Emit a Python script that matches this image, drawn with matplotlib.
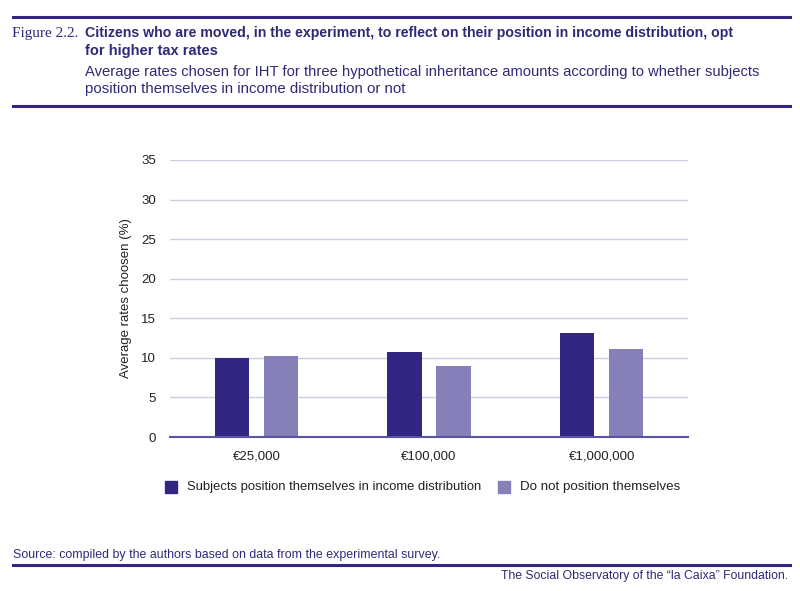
import matplotlib
matplotlib.use("Agg")
import matplotlib.pyplot as plt
from matplotlib.lines import Line2D
from matplotlib.patches import Rectangle
import numpy as np

categories = ["€25,000", "€100,000", "€1,000,000"]
positioned = [10.0, 10.7, 13.2]
not_positioned = [10.25, 9.0, 11.1]
series_names = ["Subjects position themselves in income distribution",
                "Do not position themselves"]
y_ticks = [0, 5, 10, 15, 20, 25, 30, 35]

DARK = "#312783"
LIGHT = "#8680b8"
TEXT = "#2e2a77"
GRID = "#cfcce3"
SANS = ["Liberation Sans", "DejaVu Sans"]

W, H = 800, 591
fig = plt.figure(figsize=(W / 100, H / 100), dpi=100)
renderer = fig.canvas.get_renderer()


def fy(py):
    return 1 - py / H


# place text at pixel coords and shrink the font so it spans width_px
def fit_text(px, py, s, width_px, size, ha="left", **kw):
    t = fig.text(px / W, fy(py), s, fontsize=size, ha=ha, va="center", **kw)
    w = t.get_window_extent(renderer).width
    t.set_fontsize(size * width_px / w)
    return t


# header / footer rules
for py in [17, 106, 565]:
    fig.add_artist(Line2D([13 / W, 790 / W], [fy(py), fy(py)], color=DARK, lw=2.2,
                          transform=fig.transFigure))

fit_text(12, 33, "Figure 2.2.", 66, 11, family="Liberation Serif", color=TEXT)
fit_text(85, 33,
         "Citizens who are moved, in the experiment, to reflect on their position in income distribution, opt",
         648, 12, family=SANS, weight="bold", color=TEXT)
fit_text(85, 51, "for higher tax rates", 132, 12, family=SANS, weight="bold", color=TEXT)
fit_text(85, 72,
         "Average rates chosen for IHT for three hypothetical inheritance amounts according to whether subjects",
         672, 11.5, family=SANS, color=TEXT)
fit_text(85, 89, "position themselves in income distribution or not", 322, 11.5,
         family=SANS, color=TEXT)

fit_text(13, 555,
         "Source: compiled by the authors based on data from the experimental survey.",
         424, 9.5, family=SANS, color=TEXT)
fit_text(788, 576, "The Social Observatory of the \u201cla Caixa\u201d Foundation.",
         286, 9.5, ha="right", family=SANS, color=TEXT)

ax = fig.add_axes([170 / W, fy(437), 518 / W, 277 / H])
x = np.arange(len(categories))
w = 0.2
off = 0.142
ax.bar(x - off, positioned, width=w, color=DARK, zorder=3)
ax.bar(x + off, not_positioned, width=w, color=LIGHT, zorder=3)

ax.set_xlim(-0.5, len(categories) - 0.5)
ax.set_ylim(0, 35)
ax.set_yticks(y_ticks)
ax.set_xticks(x)
ax.set_xticklabels(categories, family=SANS, fontsize=9.5, color="#222222")
ax.tick_params(axis="y", labelsize=9.5, labelcolor="#222222", length=0, pad=10)
ax.tick_params(axis="x", length=0, pad=10)
for t in ax.get_yticklabels():
    t.set_family(SANS)
ax.yaxis.grid(True, color=GRID, lw=1, zorder=0)
for s in ["top", "right", "left"]:
    ax.spines[s].set_visible(False)
ax.spines["bottom"].set_color("#5a54a0")
ax.spines["bottom"].set_linewidth(1.5)
ax.spines["bottom"].set_zorder(4)
ax.set_ylabel("Average rates choosen (%)", family=SANS,
              fontsize=9.5, color="#222222", labelpad=7)

# legend: swatch + label, laid out by hand
legend_items = [(165, 187, 291), (498, 520, 159)]
for (sx, tx, tw), name, col in zip(legend_items, series_names, [DARK, LIGHT]):
    fig.add_artist(Rectangle((sx / W, fy(493)), 12 / W, 12 / H, color=col,
                             transform=fig.transFigure))
    fit_text(tx, 487, name, tw, 11, family=SANS, color="#222222")

fig.savefig("out.png", dpi=100, facecolor="white")
